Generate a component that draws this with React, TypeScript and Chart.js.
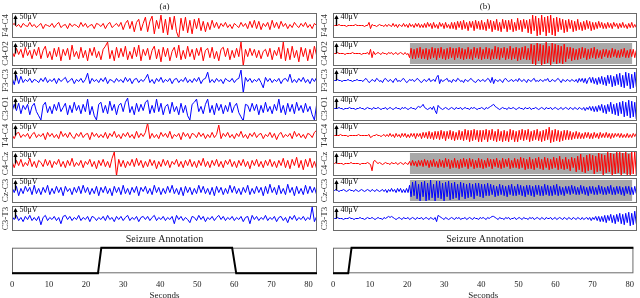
import React, { useEffect, useRef } from 'react';
import { Chart, registerables } from 'chart.js';

Chart.register(...registerables);

// ---------- data ----------
const CHANNELS = ['F4-C4', 'C4-O2', 'F3-C3', 'C3-O1', 'T4-C4', 'C4-Cz', 'Cz-C3', 'C3-T3'];
const CHANNEL_COLORS = ['#ff0000', '#ff0000', '#0000ff', '#0000ff', '#ff0000', '#ff0000', '#0000ff', '#0000ff'];
const PANEL_TITLES = ['(a)', '(b)'];
const SCALE_LABELS = ['50μV', '40μV'];
const SAMPLE_STEP_A = 0.6; // seconds per value, panel (a)
const SAMPLE_STEP_B = 0.4; // seconds per value, panel (b)
const X_MAX_A = 82.3;
const X_MAX_B = 81;
const X_TICKS = [0, 10, 20, 30, 40, 50, 60, 70, 80];
const SHADED_B = ['C4-O2', 'C4-Cz', 'Cz-C3'];
const SHADE_START_B = 20.5;
const SHADE_END_B = 79.7;

const ANNOT_A_TIME = [0, 23.2, 24.1, 59.4, 60.5, 82.3];
const ANNOT_A_VALUE = [0, 0, 1, 1, 0, 0];
const ANNOT_B_TIME = [0, 4.1, 5.0, 81];
const ANNOT_B_VALUE = [0, 0, 1, 1];

// panel (a) traces
const A_F4C4 = [
  0, 2, -1, 1, -2, 2, 0, -1, 3, -1,
  1, -2, 0, 2, -3, 1, 0, -1, 2, -2,
  1, 3, -2, 0, 1, -3, 2, -1, 1, 0,
  -2, 3, -1, 2, -2, 0, 1, -3, 2, 1,
  -1, 2, -3, 1, 3, -2, 0, 2, -1, 3,
  -4, 2, 5, -3, 4, -6, 3, 6, -5, 2,
  8, -6, 4, 9, -8, 5, -3, 10, -7, 6,
  -9, 8, -4, 9, -6, -12, 7, -5, 8, -7,
  5, -8, 6, -3, 7, -5, 4, -6, 3, -4,
  5, -2, 3, -3, 2, -1, 3, -2, 1, -3,
  2, 0, -2, 3, -1, 2, -3, 4, -2, 5,
  -3, 4, -4, 2, -1, 3, -4, 5, -2, 3,
  -3, 4, -1, 2, -3, 1, -2, 3, 0, -2,
  2, -1, 3, -2, 1, -3, 2, 0,
];
const A_C4O2 = [
  2, -3, 5, -1, 4, -4, 6, -2, 3, -5,
  4, -2, 6, -5, 3, 7, -4, 2, -6, 5,
  -3, 6, -7, 4, -2, 5, -6, 8, -3, 2,
  -5, 6, -4, 3, -7, 5, -2, 6, -4, 2,
  -6, 4, 7, 11, -5, 3, -7, 6, -4, 5,
  -3, 7, -6, 2, -5, 6, -3, 8, -7, 4,
  -2, 5, -6, 3, 7, -5, 4, -8, 6, -3,
  5, -7, 2, 6, -4, 8, -6, 3, -5, 7,
  -3, 4, -6, 5, -2, 6, -7, 3, 5, -4,
  6, -5, 2, -7, 4, 6, -3, 5, -6, 3,
  -4, 5, -3, 11, -12, 4, -3, 5, -2, 4,
  -4, 3, -5, 2, 4, -3, 5, -6, 3, -2,
  6, -5, 11, -7, 5, -6, 7, -4, 3, -8,
  6, -3, 5, -7, 4, -5, 7, -2,
];
const A_F3C3 = [
  3, -4, 5, -3, 4, -2, 1, -1, 2, -2,
  1, 0, -2, 2, -1, 3, -2, 1, -1, 2,
  -3, 2, -1, 1, 3, -2, 0, 2, -3, 1,
  -1, 2, -2, 1, 7, -3, 2, -1, 1, -2,
  2, -1, 3, -3, 1, 0, -2, 2, -1, 1,
  -2, 3, -1, 2, -3, 1, 2, -2, 1, -1,
  2, 6, -2, 1, -3, 2, -1, 3, -2, 1,
  -1, 2, -3, 1, 2, -2, 1, -1, 3, -2,
  1, -2, 2, -1, 3, -3, 1, 2, 8, -2,
  1, -2, 2, -1, 1, -3, 2, 0, -1, 2,
  -2, 1, 2, 10, -12, 3, -1, 2, -2, 1,
  -1, 2, -2, -7, 3, -1, 2, -2, 1, -1,
  2, -3, 1, 2, -1, 6, -2, 1, -2, 2,
  -1, 3, -2, 1, -3, 2, -1, 3,
];
const A_C3O1 = [
  -3, 4, -2, 5, -5, 3, -1, 4, -6, 2,
  5, -3, -7, -11, 3, 6, -4, 2, -5, 4,
  -2, 6, -3, 1, 5, -6, 3, -4, 6, -2,
  3, -5, 4, -3, 9, -6, 2, -7, -11, 4,
  6, -4, 3, -5, 7, -2, 4, -6, 3, 5,
  -3, 6, 10, -4, 2, -6, 5, -3, 4, -2,
  6, 8, -5, 3, -4, 9, -3, 5, -6, 2,
  4, -5, 6, -3, 2, -6, 5, -4, 3, -7,
  -11, 4, 6, 9, -3, 2, -5, 4, 9, -4,
  3, -6, 5, -2, 4, -5, 3, -3, 6, -4,
  2, 5, -4, -8, -12, 4, 3, -3, 5, -2,
  4, -6, 3, -4, 6, -3, 2, -5, 4, -2,
  9, -4, 3, -6, 5, -3, 4, -5, 6, -2,
  3, -4, 5, -3, 2, -6, -11, 4,
];
const A_T4C4 = [
  1, -3, 2, 3, -2, 1, -1, 2, -3, 1,
  3, -2, 1, -1, 2, -4, 3, -1, 2, -2,
  1, -3, 4, -1, 2, -2, 3, -1, -3, 2,
  -1, 3, -2, 1, 2, -4, 3, -1, 2, -2,
  1, -2, 3, -3, 2, -1, 4, -2, 1, -3,
  2, -1, 3, -2, 1, -3, 4, -2, 2, -1,
  3, 12, -3, 2, -2, 1, -3, 3, -1, 2,
  -2, 4, -3, 1, -1, 2, -4, 3, -1, 2,
  -3, 2, 1, -2, 3, -1, 2, -3, 1, -2,
  3, -2, 1, 10, -3, 2, -1, 3, -2, 1,
  -3, 2, -1, 4, -2, 1, -3, 2, -1, 3,
  -2, 1, 2, -3, 1, -1, 3, -2, 2, -4,
  1, 3, -2, 1, -1, 2, -3, 4, -1, 2,
  -2, 1, -3, 2, 1, -2, 3, 5,
];
const A_C4CZ = [
  2, -4, 3, -2, 4, -3, 1, -2, 5, -3,
  2, -4, 3, 1, -3, 4, -2, 3, -4, 2,
  -1, 4, -3, 2, -4, 3, -2, 5, -3, 1,
  -2, 3, -4, 2, -1, 4, -3, 2, -5, 3,
  -2, 4, -3, 2, -4, 5, 11, -12, 4, -3,
  3, -4, 2, -2, 4, -3, 5, -2, 3, -4,
  2, -3, 4, -2, 3, -5, 2, -3, 4, -2,
  3, -4, 2, -1, 4, -3, 2, -4, 3, -2,
  4, -3, 2, -4, 3, -2, 5, -3, 2, -4,
  3, -2, 4, -3, 2, -4, 3, -1, 4, -3,
  2, -4, 3, -2, 4, -3, 2, -5, 3, -2,
  4, -3, 2, -4, 3, -2, 4, -3, 2, -4,
  3, -2, 5, -4, 3, -5, 4, -2, 6, -4,
  3, -6, 4, -3, 5, -4, 2, -5,
];
const A_CZC3 = [
  3, -2, 4, -5, 2, -3, 4, -1, 3, -4,
  5, -3, 2, -4, 3, -2, 5, -4, 2, -3,
  4, -2, 3, -5, 4, -1, 2, -4, 3, -2,
  4, -3, 5, -2, 3, -4, 2, -3, 4, -5,
  3, -2, 4, -3, 2, -5, 4, -2, 3, -4,
  5, -3, 2, -4, 3, -2, 4, -5, 3, -1,
  4, -3, 2, -4, 5, -2, 3, -4, 2, -3,
  4, -2, 5, -3, 2, -4, 3, -5, 4, -2,
  3, -4, 2, -3, 5, -2, 4, -3, 2, -4,
  3, -5, 4, -2, 3, -4, 2, -3, 5, -2,
  4, -3, 2, -4, 3, -2, 5, -4, 2, -3,
  4, -2, 3, -5, 4, -3, 6, -2, 3, -4,
  5, -3, 2, -4, 6, -2, 3, -5, 4, -3,
  2, -4, 5, -3, 4, -2, 3, -4,
];
const A_C3T3 = [
  2, -1, 3, -2, 1, -3, 2, -1, 3, -2,
  1, -2, 2, -6, 1, 3, -2, 1, -1, 2,
  -2, 1, -5, 2, 3, -1, 2, -2, 1, -1,
  3, -2, 1, -1, 2, -3, 2, 1, -2, 1,
  -1, 2, -2, 3, -1, 1, -3, 2, -1, 2,
  -2, 1, 3, -2, 1, -1, 2, -3, 1, 2,
  -1, 2, -2, 1, 3, -2, 1, -1, 2, -2,
  1, -1, 2, -5, 3, -1, 2, -2, 1, -1,
  -4, 2, 1, -2, 3, -1, 2, -3, 1, -1,
  2, -2, 1, 3, -1, 2, -2, 1, -1, 2,
  -2, 1, -1, 2, -3, 1, 2, -5, 3, -1,
  2, -2, 1, -1, 3, -2, 1, -1, 2, -3,
  1, 2, -2, 1, -4, 2, -1, 3, -2, 1,
  -1, 2, -2, 1, -1, 11, -3, 2,
];

// panel (b) traces
const B_F4C4 = [
  0, 0, 0, 0, 1, 0, 0, 0, 0, -1, 0, 0, 0, 0, 0, 1, 0, 0, 0, 0, 0, -1, 0, 0, 3,
  -3, 1, 0, 0, -1, 0, 1, 0, 0, -1,
  1, -1, 1, 0, -1, 2, -1, 1, -2, 1, 0, -1, 2, -1, 1,
  -2, 2, -1, 1, -2, 2, -1, 2, -2, 1, -2, 2,
  -2, 3, -1, 2, -3, 3, -2, 1, -3, 3, -1, 2, -3, 3, -2, 1, -3, 3,
  -3, 3, -4, 4, -2, 4, -4, 5, -3, 3, -5, 4, -2, 4, -5, 5, -3, 4, -4, 5,
  -4, 3, -5, 6, -3, 5, -6, 4, -4, 6, -5, 3, -6, 6, -3, 5, -6, 5, -4, 6, -6, 3, -5, 7, -4, 5, -6, 6, -3, 5, -7, 6,
  -8, 10, -5, 9, -10, 7, -9, 10, -6, 8, -10, 9, -7, 10, -9, 7, -10, 8,
  -6, 7, -4, 6, -7, 5, -6, 6, -3, 5, -6, 4, -5, 6, -4, 3, -5, 4, -4, 5, -3, 4, -5, 3, -4,
  3, -3, 4, -2, 3, -3, 2, -3, 3, -2, 2, -3, 3, -1, 2, -3, 2, -2, 3, -2, 1, -3, 2, -2, 3, -2, 1, -2,
];
const B_C4O2 = [
  0, 0, 0, 1, 0, 0, 0, 0, -1, 0, 0, 0, 0, 1, 0, 0, 0, 0, 0, -1, 0, 0, 0, 1, -1,
  4, -4, 2, -1, 0, 1, 0, -1, 1, 0, 0, -1, 1, 0, 1, -1, 0, 1, -1, 0, 1, 0, -1, 1, -1, 0,
  -4, 5, -5, 4, -5, 5, -4, 6, -5, 4,
  -5, 5, -6, 4, -5, 6, -4, 5, -6, 5,
  -4, 6, -5, 4, -6, 5, -5, 6, -4, 5,
  -6, 5, -4, 6, -5, 5, -6, 4, -5, 6,
  -5, 4, -6, 6, -4, 5, -5, 6, -6, 4,
  -5, 6, -5, 5, -6, 4, -5, 7, -5, 6,
  -6, 5, -4, 6, -6, 5, -5, 7, -6, 5,
  -5, 6, -7, 5, -6, 6, -5, 7, -6, 5, -6,
  9, -10, 8, -11, 10, -7, 9, -12, 8, -10, 11, -9, 7, -11, 10, -8, 9, -10, 8, -9, 7, -10, 9, -8,
  6, -5, 6, -7, 5, -6, 4, -6, 5, -5, 6, -4, 5, -6, 4, -5, 5, -4, 6, -5,
  4, -4, 3, -5, 4, -3, 4, -4, 3, -4, 5, -3, 4, -4, 3, -4, 4, -3, 5, -4, 3, -4, 4, -3, 4, -4, 3,
];
const B_F3C3 = [
  0, 0, 0, 1, 0, 0, -1, 0, 0, 0, 1, 0, 0, -1, 0, 0, 1, 0, 0, 0,
  -1, 1, 2, 0, -2, -1, 1, 0, -1, 2, 1, -1, 0, -2, 1, 2, 0, -1, 1, 0,
  -2, 1, 2, -1, 0, -1, 1, 2, 0, -2, -1, 1, 0, 1, -1, 0, 2, 1, -1, -2,
  0, 1, -1, 0, 2, -1, 0, 1, -1, 3, 5, -3, 1, -1, 0, 1, 2, -1, 0, -2,
  1, 0, -1, 2, 1, -1, 0, -2, 1, 0, -1, 1, 2, 0, -1, -2, 0, 1, -1, 0,
  1, -1, 0, 2, 1, -2, 3, -3, 1, 0, -1, 1, 0, -2, 1, 2, 0, -1, 0, 1,
  -1, 0, 1, -1, 2, 0, -1, 1, 0, -2, 1, 0, -1, 1, 2, -1, 0, -1, 1, 0,
  -1, 1, 0, 2, -1, -1, 1, 0, -1, 1, 2, 0, -2, 1, 0, -1, 1, 0, -1, 1,
  0, -1, 1, -2, 2, -1, 2, -2, 2, -3, 1, 3, -2, 3, -3, 2, -4, 3, -3, 4,
  -4, 3, -5, 5, -3, 5, -6, 4, -5, 6, -4, 7, -6, 5, -7, 8, -5, 7, -8, 6, -7, 8, -6,
];
const B_C3O1 = [
  0, 0, 0, 0, 1, 0, 0, -1, 0, 0, 0, 1, 0, 0, 0, -1, 0, 0, 1, 0,
  0, -1, 0, 1, 0, 0, -1, 1, 0, 0, 1, 0, -1, 0, 0, 1, -1, 0, 1, 0,
  -1, 0, 1, 0, 0, -1, 1, 0, 1, 0, -1, 0, 1, 0, 0, -1, 1, 2, 1, 2,
  4, 1, 0, -1, 0, 1, -1, 2, -2, -5, 3, 1, 0, -1, 0, 1, 0, -1, 0, 1,
  0, -1, 1, 0, 0, 1, -1, 0, 1, 0, 0, -1, 1, 0, 1, 0, -1, 0, 0, 1,
  0, -1, 1, 0, 1, 2, 3, 4, 2, 1, 0, -1, 0, 1, 0, 0, -1, 1, 0, 0,
  1, 0, -1, 0, 1, 0, 0, -1, 1, 0, 0, 1, -1, 0, 0, 1, 0, -1, 0, 1,
  0, -1, 1, 0, 0, 1, -1, 0, 1, 0, -1, 0, 1, -1, 0, 1, 0, -1, 1, 0,
  -1, 1, 0, -1, 1, 0, -1, 1, -2, 1, -1, 2, -2, 2, -3, 2, -3, 3, -2, 4,
  -4, 3, -5, 4, -3, 6, -5, 4, -6, 5, -7, 6, -5, 7, -8, 6, -7, 8, -9, 7, -8, 6, -10,
];
const B_T4C4 = [
  0, 0, 0, 0, 0, 1, 0, 0, 0, 0, -1, 0, 0, 0, 0, 0, 0, 1, 0, 0, 0, 0, 0, 0, 1,
  -2, -1, 0, 0, 1, 0, 0, -1, 0, 1,
  -1, 1, -1, 2, -1, 1, -2, 2, -1, 1, -2, 2, -1, 2, -2, 1, -2, 2, -1, 2, -3, 2, -1, 2, -3, 3, -2,
  3, -3, 4, -3, 3, -4, 4, -3, 4, -4, 5, -3, 4, -5, 4, -3, 5, -4, 4, -5, 3, -4, 5, -4, 4,
  -5, 6, -4, 5, -6, 5, -5, 6, -4, 5,
  -6, 5, -6, 5, -4, 6, -6, 5, -4, 6,
  -5, 4, -6, 6, -5, 4, -6, 5, -5, 4,
  -6, 6, -4, 5, -6, 4, -6, 5, -4, 6,
  -5, 5, -4, 6, -6, 4, -5, 5, -4, 6,
  -5, 4, -6, 5, -5, 6, -4,
  8, -7, 5, -6, 6, -5, 5, -6, 4, -5, 5, -4, 5, -4, 4, -4, 3,
  -3, 4, -3, 3, -3, 2, -3, 3, -2, 3, -3, 2, -3, 3, -2, 2, -3, 3, -2, 2,
  -2, 3, -2, 2, -3, 2, -2, 2, -1, 2, -2, 2, -2, 1, -2, 2, -2, 1, -2, 2, -1, 2,
];
const B_C4CZ = [
  0, 0, 1, 0, 0, 0, 0, -1, 0, 0, 0, 0, 1, 0, 0, 0, 0, 0, -1, 0, 0, 0, 0, 1, 0,
  -1, -7, 2, 3, 1, 0, 1, 0, -1, 0, 1, 0, 0, -1, 1, 0, 0, 1, -1, 0, 1, 0, -1, 1, 0, -1,
  2, -2, 3, -2, 2, -3, 3, -2, 3, -3, 4, -2, 3, -4, 3, -3, 4, -3, 2, -4, 4, -3, 3, -4,
  5, -3, 4, -5, 3, -4, 5, -4, 3, -5,
  4, -4, 5, -3, 4, -5, 5, -3, 4, -5,
  3, -4, 5, -4, 4, -5, 3, -4, 5, -3,
  4, -5, 4, -3, 5, -4, 3, -5, 5, -4,
  4, -3, 5, -5, 3, -4, 5, -4, 4, -5,
  6, -4, 5, -6, 4, -5, 6, -5, 4, -6,
  5, -4, 6, -5, 4, -6, 6, -4, 5, -6,
  4, -5, 6, -4, 5, -6, 7, -5, 4, -6,
  6, -5, 4, -7, 6, -4, 5,
  -8, 7, -6, 9, -8, 6, -9, 8, -7, 9,
  -6, 8, -10, 7, -8, 10, -7, 9, -11, 8,
  -9, 11, -8, 10, -12, 9, -10, 12, -9, 11,
  -12, 10, -9, 12, -11, 9, -12, 11, -10, 12,
  -11,
];
const B_CZC3 = [
  0, 0, 1, 0, -1, 0, 0, 1, 0, -1, 0, 1, 0, 0, -1, 1, 0, -1, 0, 1, 0, -1, 0, 1, 0,
  -1, 1, 0, -1, 1, 0, -1, 0, 1, -1, 1, -2, 1, -1, 2, -1, 1, -2, 2, -1, 2, -2, 1, -2, 2, -2,
  5, -6, 8, -5, 9, -8, 6, -10, 8, -6,
  9, -10, 7, -9, 10, -7, 6, -10, 9, -7,
  9, -8, 7, -10, 8, -6, 9, -9, 7, -8,
  8, -7, 6, -9, 8, -6, 7, -8, 6, -7,
  7, -6, 6, -8, 7, -5, 7, -6, 6, -7,
  6, -5, 7,
  -5, 6, -4, 5, -6, 4, -5, 6, -4, 5,
  -5, 4, -6, 5, -4, 6, -5, 4, -5, 6,
  -4, 5, -5, 4, -6, 5, -4, 5, -5, 4,
  -6, 5, -4, 5, -5, 4, -5, 6, -4, 5,
  -5, 4, -5, 5, -4, 6, -5,
  4, -4, 3, -5, 4, -3, 4, -4, 5, -3,
  4, -4, 3, -4, 5, -3, 4, -4, 3, -5,
  4, -3, 4, -4, 3, -4, 5, -3, 4, -4,
  3, -4, 4, -3, 5, -4, 3, -4, 4, -3,
  4, -4, 3, -5, 4, -3, 4, -4, 3, -4,
  4, -3,
];
const B_C3T3 = [
  0, 0, 0, 1, 0, 0, 0, -1, 0, 0, 0, 1, 0, 0, -1, 0, 0, 0, 1, 0,
  0, -1, 0, 1, 0, 0, 1, 0, -1, 0, 1, 0, 0, -1, 1, 0, 1, 2, 1, 2,
  1, 0, -1, 0, 1, 0, -1, 1, 0, 0, 1, -1, 0, 1, 0, -1, 1, 0, 0, 1,
  -1, 0, 1, 0, -1, 1, 0, -1, 1, -3, 3, 2, 1, 0, -1, 1, 0, -1, 0, 1,
  0, -1, 1, 0, 1, -1, 0, 0, 1, -1, 0, 1, 0, -1, 1, 0, 0, -1, 1, 0,
  1, 0, -1, 1, 0, 1, 2, 2, 1, 0, -1, 1, 0, 0, -1, 1, 0, 1, -1, 0,
  0, 1, -1, 0, 1, 0, -1, 1, 0, 0, -1, 1, 0, 1, -1, 0, 1, 0, -1, 1,
  0, -1, 1, 0, 0, 1, -1, 0, 1, -1, 0, 1, 0, -1, 1, 0, -1, 1, 0, -1,
  1, 0, -1, 1, 0, -1, 1, -1, 0, 1, -1, 1, -2, 1, -1, 2, -2, 2, -3, 2,
  -3, 3, -4, 3, -2, 4, -4, 3, -5, 4, -3, 5, -5, 4, -6, 5, -4, 6, -7, 5, -6, 7, -5,
];

const TRACES_A = [A_F4C4, A_C4O2, A_F3C3, A_C3O1, A_T4C4, A_C4CZ, A_CZC3, A_C3T3];
const TRACES_B = [B_F4C4, B_C4O2, B_F3C3, B_C3O1, B_T4C4, B_C4CZ, B_CZC3, B_C3T3];

// ---------- styling / layout ----------
const FONT = '"Liberation Serif", "Times New Roman", serif';
const FRAME_COLOR = '#6a6a6a';
const SHADE_COLOR = '#a9a9a9';
const TEXT_COLOR = '#222';
const Y_RANGE = 12;
const FIRST_BOX_TOP = 13;
const BOX_PITCH = 27.55;
const BOX_H = 25;

type PanelGeom = { left: number; width: number; areaLeft: number; areaRight: number; labelX: number };
const GEOM: PanelGeom[] = [
  { left: 0, width: 320, areaLeft: 12, areaRight: 317, labelX: 6 },
  { left: 320, width: 320, areaLeft: 13, areaRight: 317, labelX: 5 },
];

type TraceProps = {
  values: number[];
  step: number;
  xMax: number;
  color: string;
  label: string;
  scaleLabel: string;
  shaded: boolean;
  geom: PanelGeom;
  top: number;
  height: number;
  title?: string;
};

function TraceChart(p: TraceProps) {
  const ref = useRef<HTMLCanvasElement>(null);
  useEffect(() => {
    const canvas = ref.current;
    if (!canvas) return;
    const g = p.geom;
    const decor = {
      id: 'eegDecor',
      beforeDatasetsDraw(chart: any) {
        if (!p.shaded) return;
        const { ctx, chartArea: a, scales } = chart;
        const x0 = scales.x.getPixelForValue(SHADE_START_B);
        const x1 = scales.x.getPixelForValue(SHADE_END_B);
        ctx.save();
        ctx.fillStyle = SHADE_COLOR;
        ctx.fillRect(x0, a.top + 2, x1 - x0, a.bottom - a.top - 4);
        ctx.restore();
      },
      afterDatasetsDraw(chart: any) {
        const { ctx, chartArea: a, scales } = chart;
        ctx.save();
        ctx.strokeStyle = FRAME_COLOR;
        ctx.lineWidth = 1;
        ctx.strokeRect(a.left + 0.5, a.top + 0.5, a.right - a.left - 1, a.bottom - a.top - 1);
        // scale arrow
        const ax = a.left + 3.5;
        const y0 = scales.y.getPixelForValue(0);
        ctx.strokeStyle = '#000';
        ctx.lineWidth = 1.4;
        ctx.beginPath();
        ctx.moveTo(ax, y0);
        ctx.lineTo(ax, a.top + 5);
        ctx.stroke();
        ctx.fillStyle = '#000';
        ctx.beginPath();
        ctx.moveTo(ax - 2.2, a.top + 6);
        ctx.lineTo(ax + 2.2, a.top + 6);
        ctx.lineTo(ax, a.top + 2);
        ctx.closePath();
        ctx.fill();
        ctx.font = `8px ${FONT}`;
        ctx.textAlign = 'left';
        ctx.textBaseline = 'alphabetic';
        ctx.fillStyle = '#000';
        ctx.fillText(p.scaleLabel, a.left + 7.5, a.top + 6);
        // channel label
        ctx.translate(g.labelX, (a.top + a.bottom) / 2);
        ctx.rotate(-Math.PI / 2);
        ctx.font = `9px ${FONT}`;
        ctx.fillStyle = '#333';
        ctx.textAlign = 'center';
        ctx.textBaseline = 'middle';
        ctx.fillText(p.label, 0, 0);
        ctx.restore();
      },
    };
    const chart = new Chart(canvas, {
      type: 'line',
      data: {
        datasets: [
          {
            data: p.values.map((v, i) => ({ x: i * p.step, y: v })),
            borderColor: p.color,
            borderWidth: 1,
            pointRadius: 0,
            tension: 0,
            fill: false,
          },
        ],
      },
      options: {
        animation: false,
        responsive: false,
        maintainAspectRatio: false,
        events: [],
        layout: { padding: { left: g.areaLeft, right: g.width - g.areaRight, top: 0, bottom: 0 } },
        scales: {
          x: { type: 'linear', min: 0, max: p.xMax, display: false },
          y: { min: -Y_RANGE, max: Y_RANGE, display: false },
        },
        plugins: {
          legend: { display: false },
          tooltip: { enabled: false },
          title: {
            display: !!p.title,
            text: p.title || '',
            font: { family: FONT, size: 9, weight: 'normal' },
            color: TEXT_COLOR,
            padding: { top: 1, bottom: 1.2 },
          },
        },
      } as any,
      plugins: [decor],
    });
    return () => chart.destroy();
  }, []);
  return (
    <canvas
      ref={ref}
      width={p.geom.width}
      height={p.height}
      style={{ position: 'absolute', left: p.geom.left, top: p.top, width: p.geom.width, height: p.height }}
    />
  );
}

type AnnotProps = { times: number[]; values: number[]; xMax: number; geom: PanelGeom };

const ANNOT_TOP = 233;
const ANNOT_H = 68;
const ANNOT_AXIS_H = 27.7;

function AnnotationChart(p: AnnotProps) {
  const ref = useRef<HTMLCanvasElement>(null);
  useEffect(() => {
    const canvas = ref.current;
    if (!canvas) return;
    const g = p.geom;
    const frame = {
      id: 'annotFrame',
      beforeDatasetsDraw(chart: any) {
        const { ctx, chartArea: a } = chart;
        ctx.save();
        ctx.strokeStyle = FRAME_COLOR;
        ctx.lineWidth = 1;
        ctx.strokeRect(a.left + 0.5, a.top + 0.5, a.right - a.left - 1, a.bottom - a.top - 1);
        ctx.restore();
      },
    };
    const chart = new Chart(canvas, {
      type: 'line',
      data: {
        datasets: [
          {
            data: p.times.map((t, i) => ({ x: t, y: p.values[i] })),
            borderColor: '#000',
            borderWidth: 2,
            pointRadius: 0,
            tension: 0,
            fill: false,
            clip: false,
          },
        ],
      },
      options: {
        animation: false,
        responsive: false,
        maintainAspectRatio: false,
        events: [],
        layout: { padding: { left: g.areaLeft, right: g.width - g.areaRight, top: 0, bottom: 0 } },
        scales: {
          x: {
            type: 'linear',
            min: 0,
            max: p.xMax,
            afterBuildTicks: (s: any) => {
              s.ticks = X_TICKS.map((v) => ({ value: v }));
            },
            afterFit: (s: any) => {
              s.height = ANNOT_AXIS_H;
            },
            grid: { display: false, drawTicks: false },
            border: { display: false },
            ticks: {
              font: { family: FONT, size: 8.5 },
              color: TEXT_COLOR,
              padding: 6,
              maxRotation: 0,
              autoSkip: false,
            },
            title: {
              display: true,
              text: 'Seconds',
              font: { family: FONT, size: 9 },
              color: TEXT_COLOR,
              padding: { top: 0, bottom: 0 },
            },
          },
          y: { min: 0, max: 1, display: false },
        },
        plugins: {
          legend: { display: false },
          tooltip: { enabled: false },
          title: {
            display: true,
            text: 'Seizure Annotation',
            font: { family: FONT, size: 10, weight: 'normal' },
            color: TEXT_COLOR,
            padding: { top: 0, bottom: 2.7 },
          },
        },
      } as any,
      plugins: [frame],
    });
    return () => chart.destroy();
  }, []);
  return (
    <canvas
      ref={ref}
      width={p.geom.width}
      height={ANNOT_H}
      style={{ position: 'absolute', left: p.geom.left, top: ANNOT_TOP, width: p.geom.width, height: ANNOT_H }}
    />
  );
}

function Panel({ idx }: { idx: number }) {
  const traces = idx === 0 ? TRACES_A : TRACES_B;
  const step = idx === 0 ? SAMPLE_STEP_A : SAMPLE_STEP_B;
  const xMax = idx === 0 ? X_MAX_A : X_MAX_B;
  const g = GEOM[idx];
  return (
    <>
      {traces.map((vals, i) => {
        const boxTop = Math.round(FIRST_BOX_TOP + i * BOX_PITCH);
        const first = i === 0;
        return (
          <TraceChart
            key={i}
            values={vals}
            step={step}
            xMax={xMax}
            color={CHANNEL_COLORS[i]}
            label={CHANNELS[i]}
            scaleLabel={SCALE_LABELS[idx]}
            shaded={idx === 1 && SHADED_B.includes(CHANNELS[i])}
            geom={g}
            top={first ? 0 : boxTop}
            height={first ? boxTop + BOX_H : BOX_H}
            title={first ? PANEL_TITLES[idx] : undefined}
          />
        );
      })}
      <AnnotationChart
        times={idx === 0 ? ANNOT_A_TIME : ANNOT_B_TIME}
        values={idx === 0 ? ANNOT_A_VALUE : ANNOT_B_VALUE}
        xMax={xMax}
        geom={g}
      />
    </>
  );
}

export default function App() {
  return (
    <div
      style={{
        position: 'fixed',
        left: 0,
        top: 0,
        width: 640,
        height: 298,
        overflow: 'hidden',
        background: '#fff',
      }}
    >
      <Panel idx={0} />
      <Panel idx={1} />
    </div>
  );
}
